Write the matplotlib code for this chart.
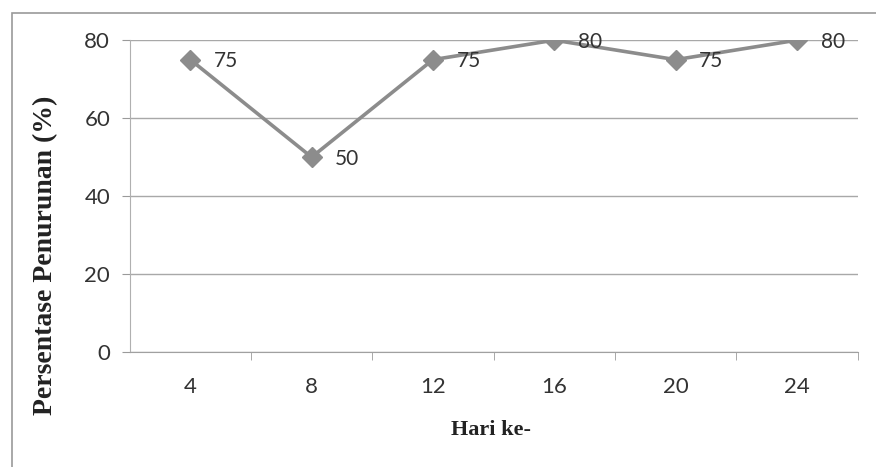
import matplotlib.pyplot as plt
from matplotlib.patches import Rectangle

# data
hari = ["4", "8", "12", "16", "20", "24"]
penurunan = [75, 50, 75, 80, 75, 80]
y_ticks = [0, 20, 40, 60, 80]

fig = plt.figure(figsize=(8.76, 4.67), dpi=100)
ax = fig.add_axes([0.148, 0.246, 0.831, 0.668])

# outer chart frame (scan of an Excel chart)
fig.patches.append(Rectangle((0.014, -0.2), 1.2, 1.172, transform=fig.transFigure,
                             fill=False, edgecolor="#9a9a9a", linewidth=1.2))

x = list(range(len(hari)))
ax.plot(x, penurunan, color="#8c8c8c", linewidth=2.6, marker="D",
        markersize=10, markerfacecolor="#8c8c8c", markeredgecolor="#8c8c8c", zorder=3)

for xi, v in zip(x, penurunan):
    ax.annotate(str(v), (xi, v), xytext=(17, -1), textcoords="offset points",
                fontsize=15, family="Lato", color="#333333", va="center", ha="left")

ax.set_xlim(-0.5, len(hari) - 0.5)
ax.set_ylim(0, 80)
ax.set_yticks(y_ticks)
ax.set_xticks(x)
ax.set_xticklabels(hari)
ax.set_xticks([i + 0.5 for i in x], minor=True)
ax.tick_params(axis="x", which="major", length=0, pad=18)
ax.tick_params(axis="x", which="minor", length=6, color="#9a9a9a", direction="out")
ax.tick_params(axis="y", length=6, color="#9a9a9a", pad=8)
for lab in ax.get_xticklabels() + ax.get_yticklabels():
    lab.set_fontfamily("Lato")
    lab.set_fontsize(16)
    lab.set_color("#333333")

ax.grid(axis="y", color="#a8a8a8", linewidth=1.0)
ax.set_axisbelow(True)
for s in ["top", "right"]:
    ax.spines[s].set_visible(False)
ax.spines["left"].set_color("#b0b0b0")
ax.spines["bottom"].set_color("#a0a0a0")

fig.text(0.560, 0.079, "Hari ke-", family="Liberation Serif", fontweight="bold",
         fontsize=16, color="#222222", ha="center", va="center")
fig.text(0.052, 0.454, "Persentase Penurunan (%)", family="Liberation Serif",
         fontweight="bold", fontsize=20, color="#222222", rotation=90,
         ha="center", va="center")

fig.savefig("out.png", dpi=100)
